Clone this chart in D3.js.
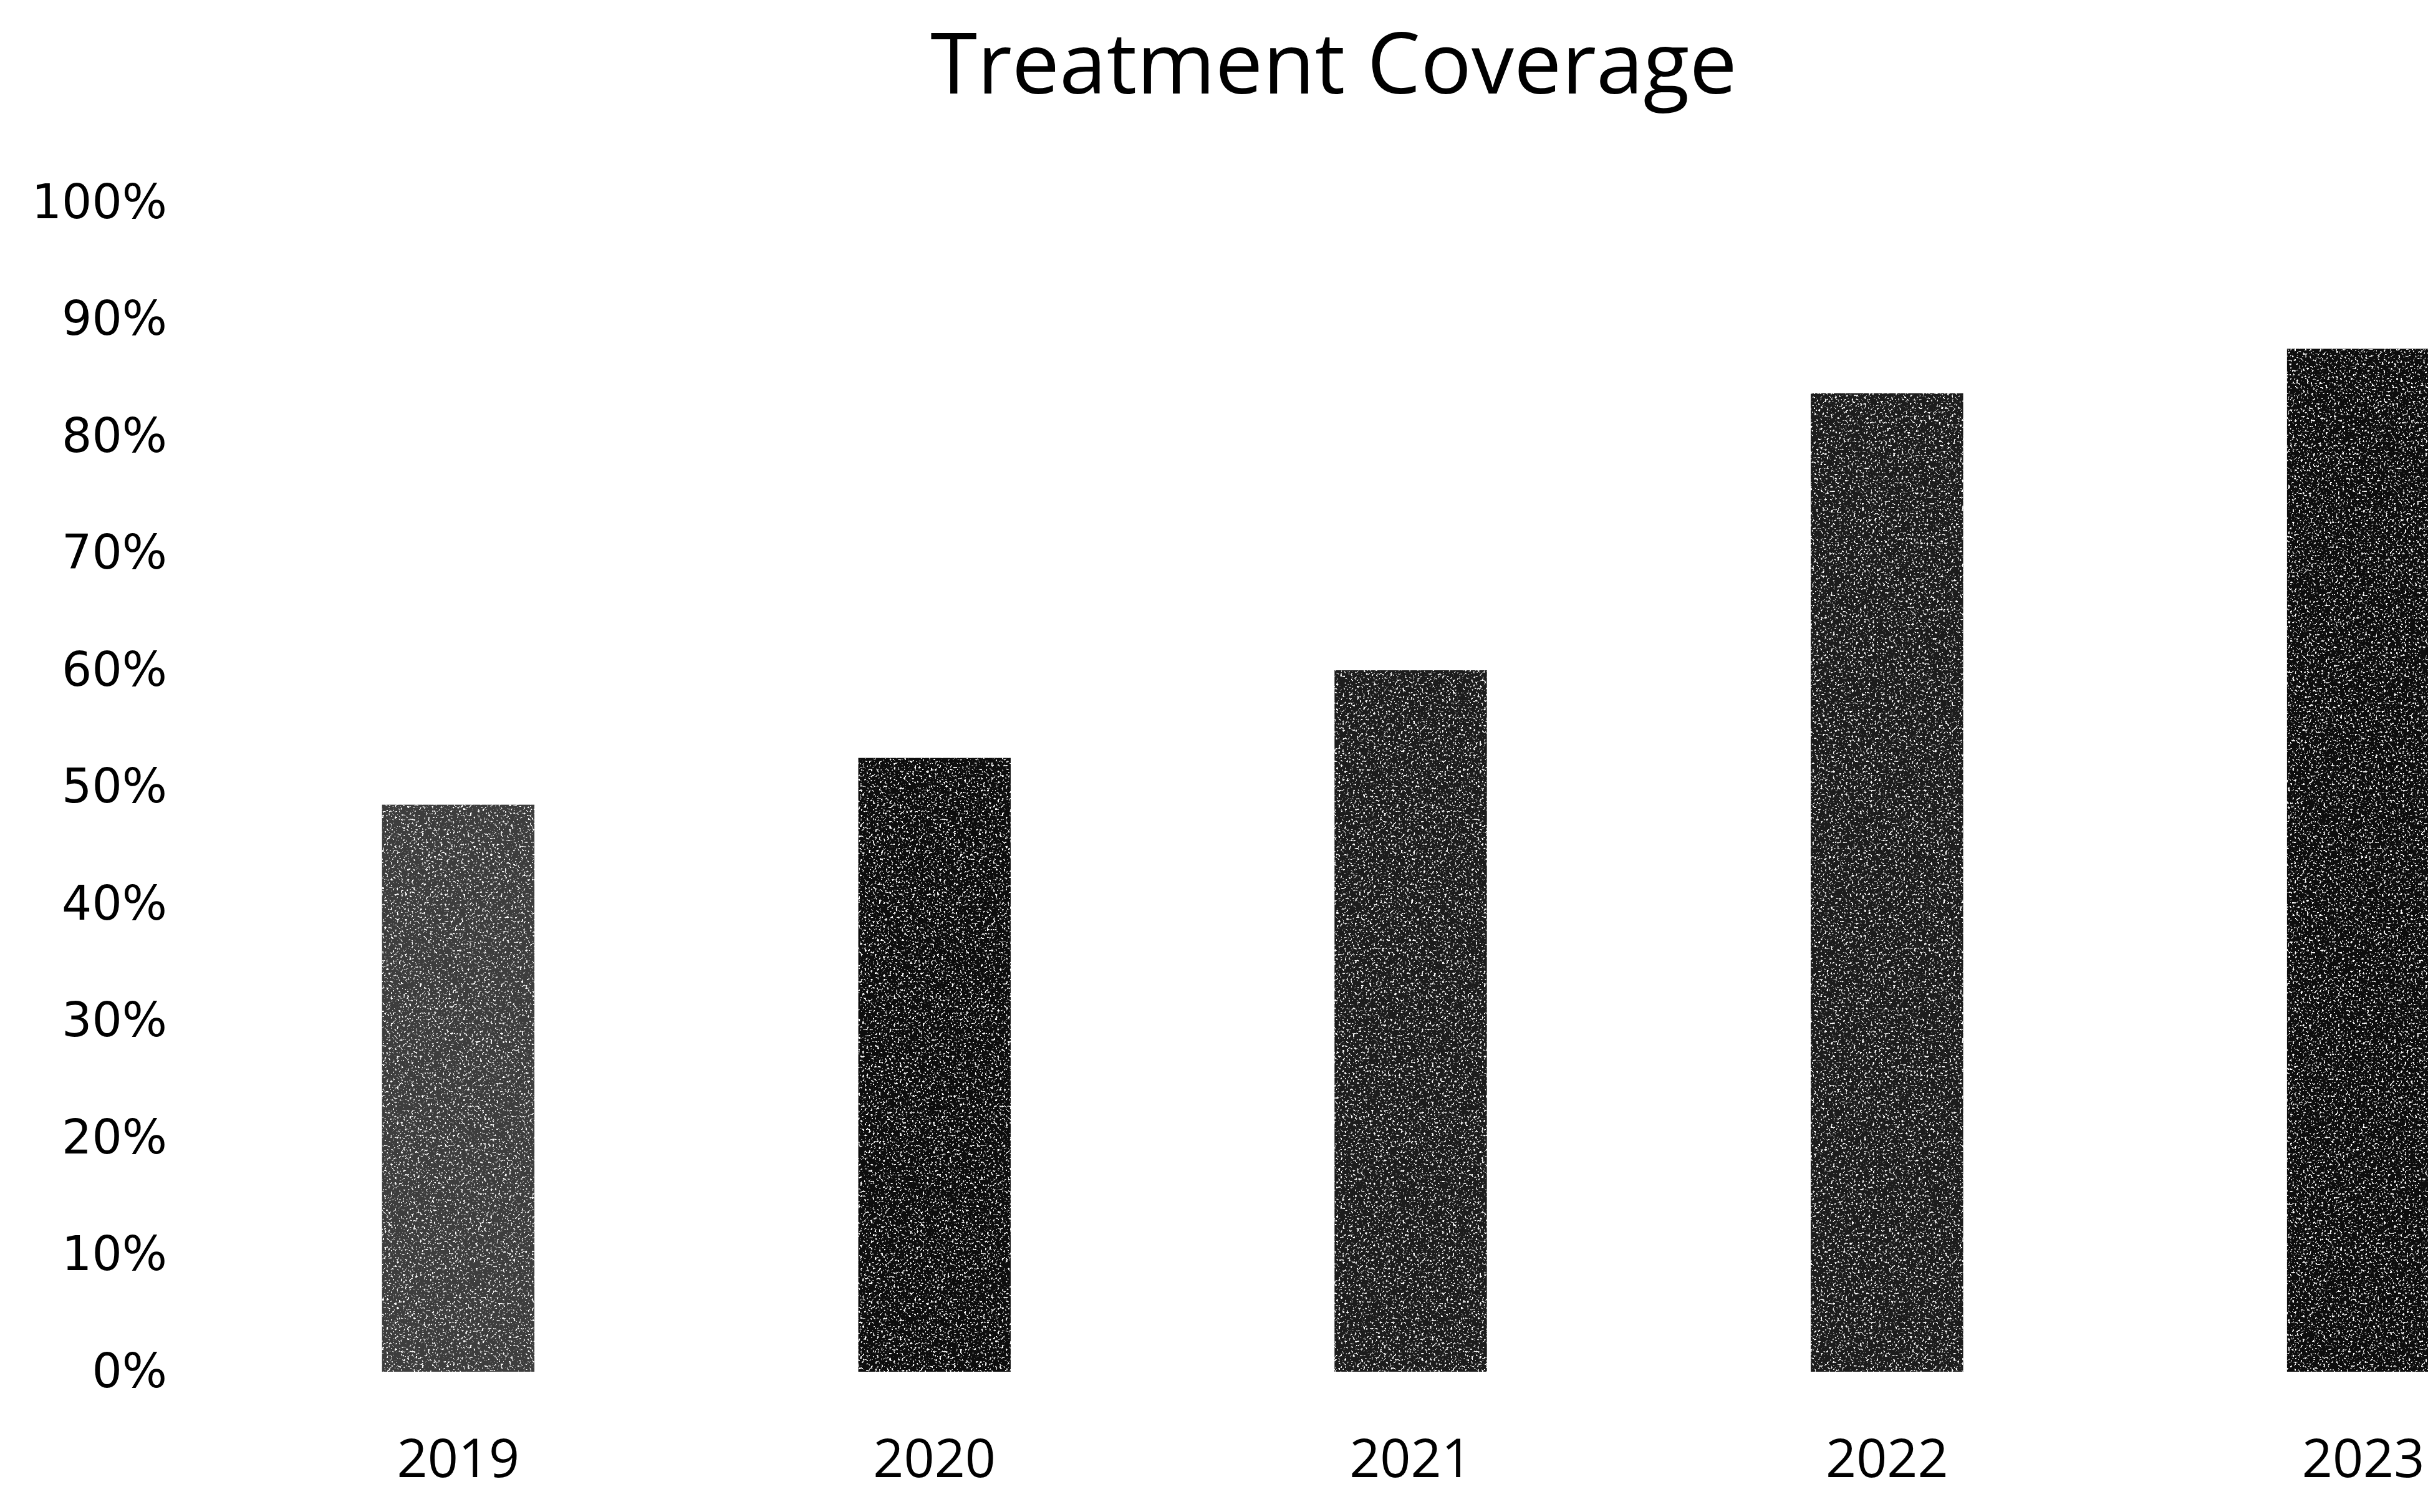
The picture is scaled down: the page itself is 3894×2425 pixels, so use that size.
<!DOCTYPE html>
<html lang="en">
	<head>
		<meta charset="utf-8">
		<title>Treatment Coverage</title>
		<script type="text/javascript" src="https://cdn.jsdelivr.net/npm/d3@7"></script>
		<style type="text/css">
			body{
				margin:0;
				background:#ffffff;
			}
			#chart text{
				fill:#000000;
			}
		</style>
	</head>
	<body>
		<div id="chart"></div>
		<script type="text/javascript">

			// values
			var years = ["2019", "2020", "2021", "2022", "2023"];
			var coverage = [0.485, 0.525, 0.60, 0.837, 0.875];
			var yTicks = [0, 0.1, 0.2, 0.3, 0.4, 0.5, 0.6, 0.7, 0.8, 0.9, 1.0];

			var w = 3894;
			var h = 2425;

			// scan tone of each bar (2019 is the lightest one)
			var barTone = ["#3c3c3c", "#101010", "#1c1c1c", "#1a1a1a", "#0e0e0e"];

			var svg = d3.select("#chart")
				.append("svg")
				.attr("width", w)
				.attr("height", h);

			// speckle like the photocopy
			var defs = svg.append("defs");
			var f = defs.append("filter")
				.attr("id", "speckle")
				.attr("x", 0).attr("y", 0)
				.attr("width", 1).attr("height", 1);
			f.append("feTurbulence")
				.attr("type", "fractalNoise")
				.attr("baseFrequency", "0.3")
				.attr("numOctaves", 2)
				.attr("seed", 7)
				.attr("result", "noise");
			f.append("feColorMatrix")
				.attr("in", "noise")
				.attr("type", "matrix")
				.attr("values", "0 0 0 0 1  0 0 0 0 1  0 0 0 0 1  10 0 0 0 -6.1")
				.attr("result", "dots");
			f.append("feComposite")
				.attr("in", "dots")
				.attr("in2", "SourceGraphic")
				.attr("operator", "in")
				.attr("result", "dotsIn");
			var merge = f.append("feMerge");
			merge.append("feMergeNode").attr("in", "SourceGraphic");
			merge.append("feMergeNode").attr("in", "dotsIn");

			var x = d3.scaleBand()
				.domain(years)
				.range([353, 4172])
				.paddingInner(0.68)
				.paddingOuter(0.34);

			var y = d3.scaleLinear()
				.domain([0, 1])
				.range([2200, 325]);

			// title
			svg.append("text")
				.text("Treatment Coverage")
				.attr("x", 2139)
				.attr("y", 150)
				.attr("text-anchor", "middle")
				.attr("font-family", "Open Sans")
				.attr("font-size", "136px");

			// y axis, labels only
			var yAxis = d3.axisLeft(y)
				.tickValues(yTicks)
				.tickFormat(d3.format(".0%"))
				.tickSize(0)
				.tickPadding(0);

			svg.append("g")
				.attr("transform", "translate(268,0)")
				.call(yAxis)
				.call(function(g){ g.select(".domain").remove(); })
				.selectAll("text")
				.attr("font-family", "DejaVu Sans")
				.attr("font-size", "76px");

			// bars
			svg.selectAll("rect.bar")
				.data(coverage)
				.enter()
				.append("rect")
				.attr("class", "bar")
				.attr("x", function(d,i){ return x(years[i]); })
				.attr("y", function(d){ return y(d); })
				.attr("width", x.bandwidth())
				.attr("height", function(d){ return y(0) - y(d); })
				.attr("fill", function(d,i){ return barTone[i]; })
				.attr("filter", "url(#speckle)");

			// x axis, labels only
			var xAxis = d3.axisBottom(x)
				.tickSize(0)
				.tickPadding(0);

			svg.append("g")
				.attr("transform", "translate(0,2308)")
				.call(xAxis)
				.call(function(g){ g.select(".domain").remove(); })
				.selectAll("text")
				.attr("font-family", "Open Sans")
				.attr("font-size", "86px");

		</script>
	</body>
</html>
